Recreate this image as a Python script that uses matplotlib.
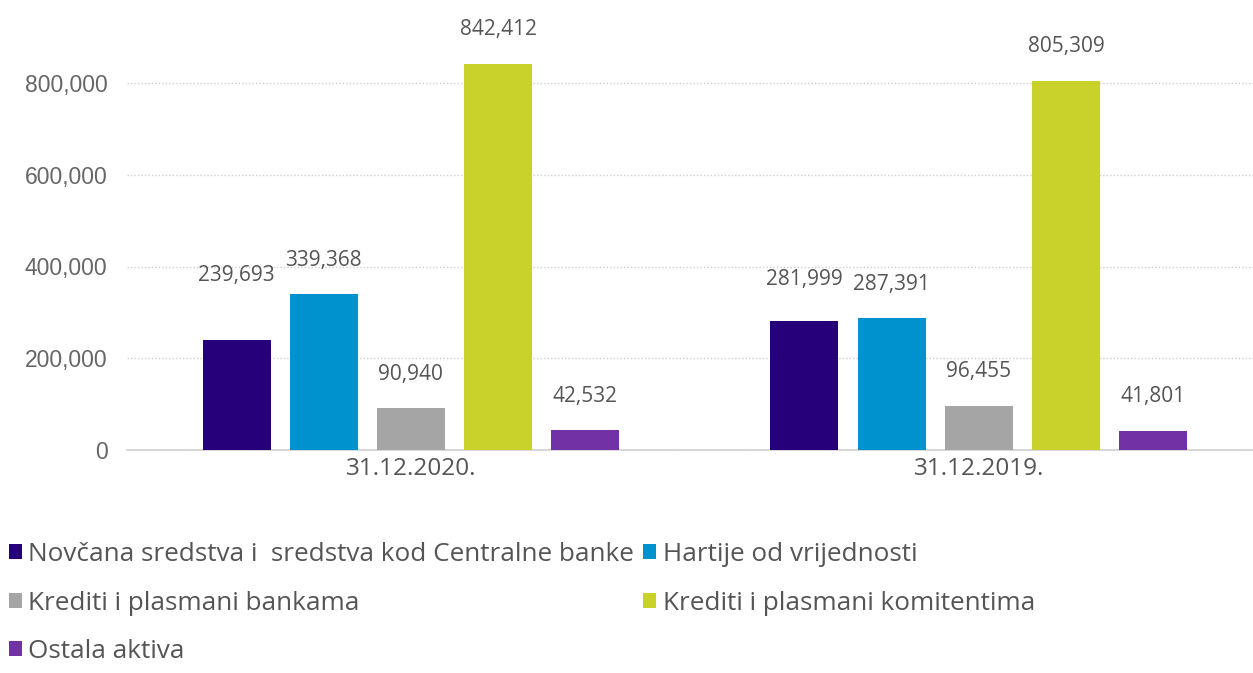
import numpy as np
import matplotlib
matplotlib.use("Agg")
import matplotlib.pyplot as plt
from matplotlib.ticker import FuncFormatter
from matplotlib.patches import Patch

# data
categories = ["31.12.2020.", "31.12.2019."]
series_names = [
    "Novčana sredstva i  sredstva kod Centralne banke",
    "Hartije od vrijednosti",
    "Krediti i plasmani bankama",
    "Krediti i plasmani komitentima",
    "Ostala aktiva",
]
novcana = [239693, 281999]
hartije = [339368, 287391]
krediti_banke = [90940, 96455]
krediti_komitenti = [842412, 805309]
ostala = [42532, 41801]
yticks = [0, 200000, 400000, 600000, 800000]

colors = ["#25007a", "#0091cf", "#a5a5a5", "#c8d22b", "#7232a6"]
text_color = "#555555"

# labels that were moved up by hand in the original (series, category) -> extra px
label_nudge = {(0, 0): 31, (0, 1): 7}

plt.rcParams["font.family"] = ["Open Sans", "DejaVu Sans"]

fig = plt.figure(figsize=(12.53, 6.73), dpi=100)
ax = fig.add_axes([127 / 1253, 1 - 450 / 673, (1253 - 127) / 1253, (450 - 45) / 673])

values = [novcana, hartije, krediti_banke, krediti_komitenti, ostala]
x = np.arange(len(categories))
width = 0.12
step = 0.1535

for i, (vals, col) in enumerate(zip(values, colors)):
    pos = x + (i - 2) * step
    bars = ax.bar(pos, vals, width=width, color=col, zorder=3)
    for j, (b, v) in enumerate(zip(bars, vals)):
        off = (34 + label_nudge.get((i, j), 0)) * 0.72
        ax.annotate(f"{v:,}", (b.get_x() + b.get_width() / 2, v),
                    xytext=(0, off), textcoords="offset points",
                    ha="center", va="center", fontsize=15, color=text_color)

ax.set_xlim(-0.5, 1.483)
ax.set_ylim(0, 800000 * (450 - 45) / (450 - 83))
ax.set_yticks(yticks)
ax.yaxis.set_major_formatter(FuncFormatter(lambda v, p: f"{int(v):,}"))
ax.set_xticks(x)
ax.set_xticklabels(categories)
ax.tick_params(axis="both", length=0, colors=text_color)
ax.tick_params(axis="y", pad=14, labelsize=16.5)
ax.tick_params(axis="x", pad=5, labelsize=17.5)
for t in ax.get_yticklabels():
    t.set_family(["Liberation Sans", "DejaVu Sans"])
    t.set_color("#666666")

ax.grid(axis="y", linestyle=(0, (1, 1.5)), color="#cfcfcf", linewidth=1, zorder=0)
for s in ["top", "right", "left"]:
    ax.spines[s].set_visible(False)
ax.spines["bottom"].set_color("#d0d0d0")
ax.spines["bottom"].set_linewidth(1.2)

# legend: ncol=2 fills column-wise, so reorder entries
order = [0, 2, 4, 1, 3]
handles = [Patch(facecolor=colors[i]) for i in order]
labels = [series_names[i] for i in order]
leg = fig.legend(handles, labels, loc="upper left", bbox_to_anchor=(0.007, 1 - 542 / 673),
                 ncol=2, frameon=False, fontsize=18.8, handlelength=0.5, handleheight=0.5,
                 handletextpad=0.25, columnspacing=0.35, labelspacing=0.9, borderaxespad=0,
                 borderpad=0)
for t in leg.get_texts():
    t.set_color(text_color)

fig.savefig("out.png", dpi=100)
